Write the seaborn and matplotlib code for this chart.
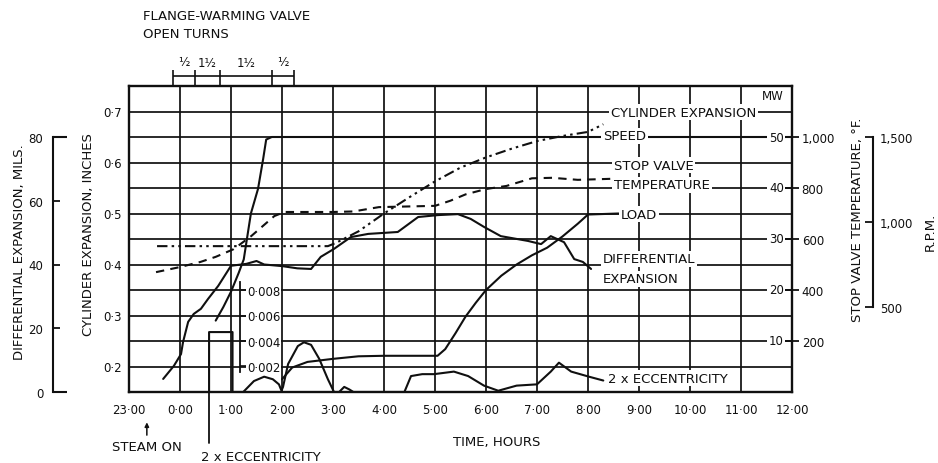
import matplotlib
matplotlib.use("Agg")
import matplotlib.pyplot as plt
import pandas as pd
import seaborn as sns
from matplotlib.ticker import FixedLocator, FuncFormatter

# ---------------------------------------------------------------- data
hour_ticks = [-1, 0, 1, 2, 3, 4, 5, 6, 7, 8, 9, 10, 11, 12]
hour_labels = ["23·00", "0·00", "1·00", "2·00", "3·00", "4·00", "5·00",
               "6·00", "7·00", "8·00", "9·00", "10·00", "11·00", "12·00"]
inch_ticks = [0.2, 0.3, 0.4, 0.5, 0.6, 0.7]
inch_labels = ["0·2", "0·3", "0·4", "0·5", "0·6", "0·7"]
inch_minor = [0.25, 0.35, 0.45, 0.55, 0.65]
mils_ticks = [0, 20, 40, 60, 80]
mw_ticks = [10, 20, 30, 40, 50]
temp_ticks = [200, 400, 600, 800, 1000]
rpm_ticks = [500, 1000, 1500]
ecc_ticks = [0.002, 0.004, 0.006, 0.008]
ecc_labels = ["0·002", "0·004", "0·006", "0·008"]

# flange-warming valve: opening boundaries (hours) and turns open
valve_edges = [-0.14, 0.29, 0.78, 1.80, 2.24]
valve_turns = ["½", "1½", "1½", "½"]

# cylinder expansion, inches
cyl_hours = [-0.45, 0.5, 1.5, 2.5, 2.9, 3.05, 3.5, 4.0, 4.5, 5.0, 5.5,
             6.0, 6.5, 7.0, 7.5, 8.0, 8.3]
cyl_inches = [0.436, 0.436, 0.436, 0.436, 0.436, 0.442, 0.465, 0.500,
              0.532, 0.563, 0.590, 0.610, 0.627, 0.642, 0.652, 0.660, 0.675]

# differential expansion, mils
diff_hours = [-0.33, -0.12, 0.02, 0.06, 0.16, 0.27, 0.41, 0.55, 0.75, 1.0,
              1.3, 1.5, 1.65, 2.0, 2.3, 2.57, 2.76, 3.02, 3.35, 3.69, 4.27,
              4.67, 5.06, 5.45, 5.7, 5.96, 6.29, 6.82, 7.08, 7.27, 7.53,
              7.73, 7.9, 8.06]
diff_mils = [4.1, 8.2, 11.9, 15.7, 22.0, 24.5, 26.1, 29.2, 33.3, 39.6,
             40.2, 41.1, 40.0, 39.5, 38.8, 38.6, 42.4, 44.9, 48.6, 49.6, 50.2,
             54.9, 55.5, 55.8, 54.3, 51.8, 48.9, 47.4, 46.4, 48.9, 47.0,
             41.7, 40.8, 38.6]

# speed, r.p.m.
speed_hours = [0.7, 0.85, 1.0, 1.15, 1.25, 1.39, 1.53, 1.63, 1.69, 1.8, 12.0]
speed_rpm = [420, 500, 590, 700, 780, 1050, 1195, 1370, 1485, 1500, 1500]

# stop valve temperature, deg F
temp_hours = [-0.47, 0.0, 0.4, 0.7, 1.05, 1.4, 1.85, 2.05, 3.0, 3.4, 3.9,
              5.0, 5.3, 5.6, 6.0, 6.4, 6.9, 7.3, 7.8, 8.45]
temp_degf = [470, 490, 510, 530, 560, 612, 690, 706, 706, 708, 725,
             730, 750, 775, 796, 808, 838, 840, 832, 836]

# load, MW
load_hours = [2.0, 2.2, 2.5, 3.0, 3.5, 4.0, 4.5, 5.05, 5.2, 5.4, 5.6, 5.8,
              6.0, 6.3, 6.6, 6.9, 7.2, 7.5, 7.8, 8.0, 8.6]
load_mw = [2.5, 4.8, 5.9, 6.5, 7.0, 7.1, 7.1, 7.1, 8.4, 11.5, 14.8, 17.5,
           20.0, 22.8, 25.0, 26.8, 28.3, 30.5, 33.0, 34.8, 35.0]

# 2 x eccentricity, inches
ecc_hours = [0.57, 0.57, 1.03, 1.03, 1.24, 1.45, 1.65, 1.82, 1.94, 1.99,
             2.02, 2.12, 2.31, 2.43, 2.57, 2.73, 2.9, 3.02, 3.12, 3.22, 3.32,
             3.4, 4.4, 4.53, 4.75, 4.98, 5.37, 5.65, 5.96, 6.24, 6.6, 7.0,
             7.27, 7.43, 7.67, 8.02, 8.3]
ecc_inches = [0.0, 0.0047, 0.0047, 0.0, 0.0, 0.00086, 0.0012, 0.0010,
              0.0006, 0.0001, 0.0004, 0.0022, 0.0036, 0.0039, 0.0037, 0.0026,
              0.0010, 0.0, 0.0, 0.0004, 0.0002, 0.0, 0.0, 0.00125, 0.0014,
              0.0014, 0.0016, 0.00125, 0.0005, 0.0001, 0.0005, 0.0006, 0.0016,
              0.0023, 0.0016, 0.0012, 0.0009]

# axis ranges (all scales share the same chart height)
HOUR_LIM = (-1, 12)
INCH_LIM = (0.15, 0.75)
MILS_LIM = (0, 96)
MW_LIM = (0, 60)
TEMP_LIM = (0, 1200)
RPM_LIM = (0, 1800)
ECC_LIM = (0, 0.024)

# ---------------------------------------------------------------- style
sns.set_style("white")
plt.rcParams["font.family"] = ["DejaVu Sans"]
INK = "#101010"
LABEL_FS = 9.5
TICK_FS = 8.5
CURVE_LW = 1.5
GRID_LW = 1.25
WHITE = dict(facecolor="white", edgecolor="none", pad=1.2)

fig = plt.figure(figsize=(9.38, 4.64), dpi=100)
ax = fig.add_axes([129 / 938, 1 - 393 / 464, 663 / 938, 306 / 464])


def trace(axis, hours, values, lw=CURVE_LW):
    frame = pd.DataFrame({"hour": hours, "value": values})
    sns.lineplot(data=frame, x="hour", y="value", ax=axis, color=INK,
                 lw=lw, estimator=None, sort=False)
    axis.set_xlabel("")
    axis.set_ylabel("")
    return axis.lines[-1]


def twin(limits):
    t = ax.twinx()
    t.set_ylim(*limits)
    for s in t.spines.values():
        s.set_visible(False)
    t.tick_params(axis="y", left=False, right=False,
                  labelleft=False, labelright=False)
    t.grid(False)
    return t


# main axes: cylinder expansion (inches) with the chart grid
line = trace(ax, cyl_hours, cyl_inches)
line.set_dashes([5, 2, 1.2, 2, 1.2, 2])
ax.set_xlim(*HOUR_LIM)
ax.set_ylim(*INCH_LIM)
ax.set_xticks(hour_ticks, hour_labels)
ax.set_yticks(inch_ticks, inch_labels)
ax.yaxis.set_minor_locator(FixedLocator(inch_minor))
ax.grid(True, which="major", axis="x", color=INK, lw=GRID_LW)
ax.grid(True, which="both", axis="y", color=INK, lw=GRID_LW)
ax.tick_params(which="both", length=0, labelsize=TICK_FS, colors=INK)
ax.tick_params(axis="x", pad=8)
ax.tick_params(axis="y", pad=5)
for s in ax.spines.values():
    s.set_visible(True)
    s.set_color(INK)
    s.set_linewidth(1.7)

# differential expansion, mils (detached scale at far left)
ax_mils = twin(MILS_LIM)
trace(ax_mils, diff_hours, diff_mils)
sp = ax_mils.spines["left"]
sp.set_visible(True)
sp.set_position(("axes", (53 - 129) / 663))
sp.set_bounds(mils_ticks[0], mils_ticks[-1])
sp.set_color(INK)
sp.set_linewidth(1.5)
ax_mils.yaxis.set_ticks_position("left")
ax_mils.set_yticks([mils_ticks[0], mils_ticks[-1]],
                   [str(mils_ticks[0]), str(mils_ticks[-1])])
ax_mils.yaxis.set_minor_locator(FixedLocator(mils_ticks[1:-1]))
ax_mils.yaxis.set_minor_formatter(FuncFormatter(lambda v, p: f"{v:.0f}"))
ax_mils.tick_params(axis="y", which="major", direction="in", length=10,
                    width=1.5, left=True, labelleft=True, right=False,
                    labelright=False, pad=7, labelsize=TICK_FS, colors=INK)
ax_mils.tick_params(axis="y", which="minor", direction="in", length=5,
                    width=1.3, left=True, labelleft=True, right=False,
                    labelright=False, pad=7, labelsize=TICK_FS, colors=INK)

# stop valve temperature, deg F (labels outside the right edge)
ax_temp = twin(TEMP_LIM)
line = trace(ax_temp, temp_hours, temp_degf)
line.set_dashes([4, 3])
ax_temp.yaxis.set_ticks_position("right")
ax_temp.set_yticks(temp_ticks, [f"{v:,.0f}" for v in temp_ticks])
ax_temp.tick_params(axis="y", right=True, labelright=True, length=0, pad=7,
                    labelsize=TICK_FS, colors=INK)

# speed, r.p.m. (detached scale at far right)
ax_rpm = twin(RPM_LIM)
trace(ax_rpm, speed_hours, speed_rpm)
sp = ax_rpm.spines["right"]
sp.set_visible(True)
sp.set_position(("axes", (873 - 129) / 663))
sp.set_bounds(rpm_ticks[0], rpm_ticks[-1])
sp.set_color(INK)
sp.set_linewidth(1.5)
ax_rpm.yaxis.set_ticks_position("right")
ax_rpm.set_yticks(rpm_ticks, [f"{v:,.0f}" for v in rpm_ticks])
ax_rpm.tick_params(axis="y", right=True, labelright=True, direction="in",
                   length=6, width=1.3, pad=5, labelsize=TICK_FS, colors=INK)

# 2 x eccentricity, inches (small scale drawn inside the chart)
ax_ecc = twin(ECC_LIM)
trace(ax_ecc, ecc_hours, ecc_inches)
sp = ax_ecc.spines["right"]
sp.set_visible(True)
sp.set_position(("axes", (1.18 - HOUR_LIM[0]) / (HOUR_LIM[1] - HOUR_LIM[0])))
sp.set_bounds(0.0016, 0.0086)
sp.set_color(INK)
sp.set_linewidth(1.3)
ax_ecc.yaxis.set_ticks_position("right")
ax_ecc.set_yticks(ecc_ticks, ecc_labels)
ax_ecc.tick_params(axis="y", right=True, labelright=True, direction="out",
                   length=4, width=1.2, pad=1, labelsize=TICK_FS, colors=INK)
for lbl in ax_ecc.get_yticklabels():
    lbl.set_bbox(dict(facecolor="white", edgecolor="none", pad=0.6))

# load, MW (labels inside the right edge)
ax_mw = twin(MW_LIM)
trace(ax_mw, load_hours, load_mw)
ax_mw.yaxis.set_ticks_position("right")
ax_mw.set_yticks(mw_ticks)
ax_mw.tick_params(axis="y", right=True, labelright=False, direction="inout",
                  length=10, width=1.3, colors=INK)
for v in mw_ticks:
    ax_mw.text(11.84, v, str(v), ha="right", va="center", fontsize=TICK_FS,
               color=INK, bbox=WHITE)
ax_mw.text(11.84, 58.2, "MW", ha="right", va="center", fontsize=TICK_FS,
           color=INK)
ax.set_xlim(*HOUR_LIM)

# curve names along the right of the chart
data_tr = ax.transData
curve_names = [
    ("CYLINDER EXPANSION", 8.45, 0.699),
    ("SPEED", 8.29, 0.652),
    ("STOP VALVE", 8.51, 0.595),
    ("TEMPERATURE", 8.51, 0.556),
    ("LOAD", 8.65, 0.499),
    ("DIFFERENTIAL", 8.29, 0.411),
    ("EXPANSION", 8.29, 0.372),
    ("2 x ECCENTRICITY", 8.39, 0.177),
]
for text, hx, yi in curve_names:
    ax_mw.text(hx, yi, text, transform=data_tr, ha="left", va="center",
               fontsize=LABEL_FS, color=INK, bbox=WHITE)

# flange-warming valve bracket above the chart
ax.hlines(0.770, valve_edges[0], valve_edges[-1], color=INK, lw=1.2,
          clip_on=False)
ax.vlines(valve_edges, INCH_LIM[1], 0.781, color=INK, lw=1.2, clip_on=False)
for a, b, turns in zip(valve_edges[:-1], valve_edges[1:], valve_turns):
    ax.text((a + b) / 2, 0.797, turns, ha="center", va="center",
            fontsize=TICK_FS, color=INK)
fig.text(143 / 938, 1 - 16 / 464, "FLANGE-WARMING VALVE", ha="left",
         va="center", fontsize=LABEL_FS, color=INK)
fig.text(143 / 938, 1 - 34 / 464, "OPEN TURNS", ha="left", va="center",
         fontsize=LABEL_FS, color=INK)

# notes below the time axis
steam_on = -0.65
ax.annotate("", xy=(steam_on, 0.096), xytext=(steam_on, 0.060),
            arrowprops=dict(arrowstyle="-|>", color=INK, lw=1.1,
                            mutation_scale=6),
            annotation_clip=False)
ax.text(steam_on, 0.044, "STEAM ON", ha="center", va="center",
        fontsize=LABEL_FS, color=INK)
ax.plot([ecc_hours[0], ecc_hours[0]], [INCH_LIM[0], 0.050], color=INK,
        lw=1.3, clip_on=False)
ax.text(0.41, 0.0226, "2 x ECCENTRICITY", ha="left", va="center",
        fontsize=LABEL_FS, color=INK)
ax.text(6.2, 0.052, "TIME, HOURS", ha="center", va="center",
        fontsize=LABEL_FS, color=INK)

# axis titles
fig.text(20 / 938, 1 - 252 / 464, "DIFFERENTIAL EXPANSION, MILS.",
         rotation=90, ha="center", va="center", fontsize=LABEL_FS, color=INK)
fig.text(88 / 938, 1 - 235 / 464, "CYLINDER EXPANSION, INCHES",
         rotation=90, ha="center", va="center", fontsize=LABEL_FS, color=INK)
fig.text(857 / 938, 1 - 220 / 464, "STOP VALVE TEMPERATURE, °F.",
         rotation=90, ha="center", va="center", fontsize=LABEL_FS, color=INK)
fig.text(930 / 938, 1 - 232 / 464, "R.P.M.", rotation=90, ha="center",
         va="center", fontsize=LABEL_FS, color=INK)

fig.savefig("out.png", dpi=100)
